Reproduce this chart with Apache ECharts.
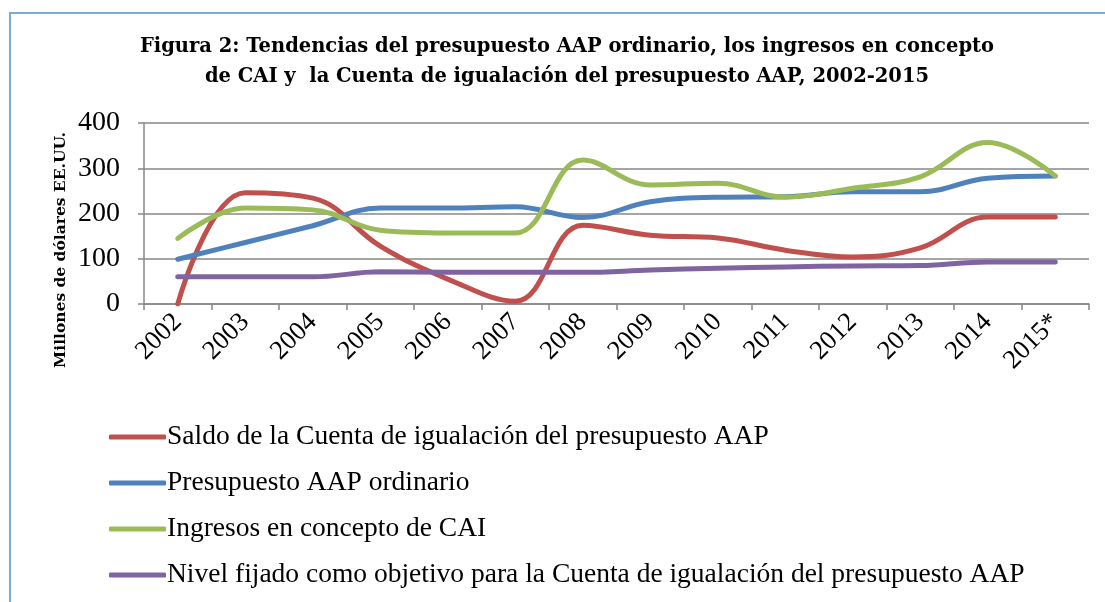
<!DOCTYPE html>
<html>
<head>
<meta charset="utf-8">
<script src="https://cdn.jsdelivr.net/npm/echarts@6/dist/echarts.min.js"></script>
<style>html,body{margin:0;padding:0;background:#fff}#c{width:1105px;height:602px}</style>
</head>
<body>
<div id="c"></div>
<script>
var categories = ['2002','2003','2004','2005','2006','2007','2008','2009','2010','2011','2012','2013','2014','2015*'];
var seriesNames = [
  'Saldo de la Cuenta de igualación del presupuesto AAP',
  'Presupuesto AAP ordinario',
  'Ingresos en concepto de CAI',
  'Nivel fijado como objetivo para la Cuenta de igualación del presupuesto AAP'
];
var saldo = [0, 246, 234, 128, 55, 6, 174, 152, 146, 119, 104, 124, 192, 192];
var presupuesto = [99, 136, 173, 212, 212, 215, 191, 226, 236, 237, 248, 248, 278, 283];
var ingresos = [145, 212, 208, 163, 157, 157, 318, 263, 267, 236, 256, 281, 357, 283];
var nivel = [60, 60, 60, 71, 70, 70, 70, 75, 79, 82, 84, 85, 93, 93];
var yTicks = [0, 100, 200, 300, 400];
var colors = ['#C0504D', '#4F81BD', '#9BBB59', '#8064A2'];

var chart = echarts.init(document.getElementById('c'));
var serif = '"Liberation Serif", serif';
var dataSets = [saldo, presupuesto, ingresos, nivel];
chart.setOption({
  animation: false,
  color: colors,
  graphic: [
    {type: 'rect', shape: {x: 10, y: 13, width: 1200, height: 700}, style: {fill: null, stroke: '#7EAAD8', lineWidth: 2}, silent: true},
    {type: 'text', x: 567, y: 32, style: {text: 'Figura 2: Tendencias del presupuesto AAP ordinario, los ingresos en concepto\nde CAI y  la Cuenta de igualación del presupuesto AAP, 2002-2015', font: 'bold 19.5px "DejaVu Serif"', fill: '#000', align: 'center', lineHeight: 30}},
    {type: 'text', x: 61, y: 250, rotation: Math.PI / 2, style: {text: 'Millones de dólares EE.UU.', font: 'bold 15.5px "DejaVu Serif"', fill: '#000', align: 'center', verticalAlign: 'middle'}}
  ],
  grid: {left: 144, right: 16, top: 123, bottom: 298, containLabel: false, outerBoundsMode: 'none'},
  legend: {
    orient: 'vertical', left: 104, top: 417, itemWidth: 57, itemHeight: 5, itemGap: 16, icon: 'roundRect',
    textStyle: {fontFamily: serif, fontSize: 27.5, color: '#000', lineHeight: 30, padding: [0, 0, 0, -4]},
    data: seriesNames
  },
  xAxis: {
    type: 'category', data: categories, boundaryGap: true,
    axisLine: {lineStyle: {color: '#878787', width: 1.5}},
    axisTick: {show: true, length: 6, lineStyle: {color: '#878787', width: 1.5}},
    axisLabel: {rotate: 45, fontFamily: serif, fontSize: 26.5, color: '#000', margin: 14, interval: 0},
    splitLine: {show: false}
  },
  yAxis: {
    type: 'value', min: yTicks[0], max: yTicks[yTicks.length - 1], interval: 100,
    axisLine: {show: true, lineStyle: {color: '#878787', width: 1.5}},
    axisTick: {show: true, length: 6, lineStyle: {color: '#878787', width: 1.5}},
    axisLabel: {fontFamily: serif, fontSize: 28, color: '#000', margin: 24},
    splitLine: {show: true, lineStyle: {color: '#878787', width: 1.5}}
  },
  series: seriesNames.map(function (n, i) {
    return {name: n, type: 'line', data: dataSets[i], smooth: 0.4, symbol: 'none', showSymbol: false,
      lineStyle: {width: 5, color: colors[i], cap: 'round'}, itemStyle: {color: colors[i]}};
  })
});
</script>
</body>
</html>
